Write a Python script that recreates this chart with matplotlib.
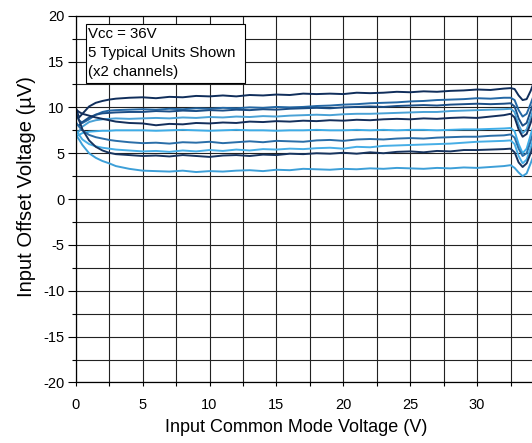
import matplotlib
matplotlib.use("Agg")
import matplotlib.pyplot as plt
from matplotlib.patches import Rectangle
from matplotlib.ticker import MultipleLocator

plt.rcParams["font.family"] = ["Liberation Sans", "DejaVu Sans"]
plt.rcParams["axes.unicode_minus"] = False

# Input common mode voltage (V)
vcm = [0, 0.25, 0.5, 1, 1.5, 2, 2.5,
       3, 4, 5, 6, 7, 8, 9, 10, 11, 12, 13, 14, 15, 16, 17,
       18, 19, 20, 21, 22, 23, 24, 25, 26, 27, 28, 29, 30, 31, 32,
       32.5, 32.8, 33.1, 33.4, 33.7, 34.0, 34.2]

# Input offset voltage (uV), 5 units x 2 channels
unit1a = [10.0, 8.9, 9.3, 10.1, 10.5, 10.7, 10.85,
          10.95, 11.05, 11.1, 11.0, 11.15, 11.1, 11.25, 11.2, 11.3, 11.2, 11.35, 11.3, 11.4, 11.35, 11.5,
          11.45, 11.5, 11.45, 11.6, 11.55, 11.6, 11.7, 11.65, 11.75, 11.7, 11.8, 11.85, 11.95, 11.9, 12.05,
          12.1, 12.0, 11.3, 10.8, 10.9, 11.8, 12.6]
unit1b = [9.5, 8.6, 8.3, 8.7, 9.2, 9.5, 9.65,
          9.7, 9.75, 9.8, 9.75, 9.85, 9.8, 9.9, 9.85, 9.95, 9.9, 10.0, 9.95, 10.05, 10.0, 10.05,
          10.15, 10.2, 10.3, 10.35, 10.45, 10.5, 10.55, 10.65, 10.7, 10.8, 10.85, 10.9, 11.0, 10.95, 11.05,
          11.05, 10.8, 9.7, 9.0, 9.3, 10.4, 11.2]
unit2a = [8.2, 8.0, 8.4, 8.9, 9.2, 9.35, 9.4,
          9.45, 9.5, 9.5, 9.6, 9.55, 9.65, 9.6, 9.7, 9.65, 9.75, 9.7, 9.8, 9.75, 9.85, 9.9,
          9.95, 9.9, 10.0, 10.05, 10.1, 10.05, 10.15, 10.2, 10.25, 10.2, 10.3, 10.35, 10.4, 10.35, 10.4,
          10.45, 10.1, 8.8, 8.0, 8.3, 9.6, 10.5]
unit2b = [7.0, 7.4, 7.9, 8.4, 8.6, 8.7, 8.75,
          8.8, 8.75, 8.8, 8.85, 8.8, 8.9, 8.85, 8.95, 8.9, 9.0, 8.95, 9.05, 9.0, 9.1, 9.15,
          9.2, 9.15, 9.25, 9.3, 9.3, 9.35, 9.4, 9.45, 9.5, 9.5, 9.6, 9.65, 9.7, 9.75, 9.8,
          9.85, 9.5, 8.1, 7.2, 7.6, 8.9, 9.8]
unit3a = [9.8, 9.5, 9.3, 9.1, 8.9, 8.75, 8.6,
          8.45, 8.3, 8.25, 8.05, 8.2, 8.15, 8.3, 8.25, 8.35, 8.3, 8.45, 8.4, 8.5, 8.45, 8.55,
          8.5, 8.6, 8.55, 8.65, 8.6, 8.7, 8.75, 8.7, 8.8, 8.75, 8.85, 8.9, 8.85, 9.0, 9.15,
          9.3, 8.9, 7.6, 6.8, 7.1, 8.3, 9.2]
unit3b = [6.8, 7.0, 7.2, 7.35, 7.4, 7.45, 7.45,
          7.5, 7.5, 7.5, 7.45, 7.5, 7.55, 7.5, 7.45, 7.5, 7.55, 7.5, 7.5, 7.45, 7.5, 7.5,
          7.55, 7.5, 7.5, 7.55, 7.5, 7.55, 7.5, 7.55, 7.55, 7.5, 7.55, 7.6, 7.6, 7.65, 7.7,
          7.75, 7.4, 6.0, 5.0, 5.5, 7.0, 8.0]
unit4a = [8.4, 7.9, 7.5, 7.0, 6.75, 6.6, 6.45,
          6.35, 6.2, 6.1, 6.15, 6.05, 6.2, 6.15, 6.25, 6.1, 6.2, 6.3, 6.2, 6.35, 6.3, 6.25,
          6.4, 6.45, 6.35, 6.5, 6.55, 6.5, 6.6, 6.65, 6.6, 6.7, 6.75, 6.8, 6.8, 6.9, 6.95,
          7.05, 6.7, 5.5, 4.7, 5.0, 6.3, 7.3]
unit4b = [7.6, 7.0, 6.5, 6.0, 5.75, 5.6, 5.5,
          5.4, 5.3, 5.2, 5.25, 5.15, 5.3, 5.2, 5.35, 5.25, 5.4, 5.3, 5.45, 5.4, 5.5, 5.45,
          5.55, 5.6, 5.5, 5.7, 5.65, 5.8, 5.85, 5.9, 5.95, 6.0, 6.05, 6.15, 6.25, 6.3, 6.35,
          6.4, 6.0, 4.7, 3.9, 4.3, 5.6, 6.6]
unit5a = [9.4, 8.6, 7.6, 6.4, 5.7, 5.3, 5.05,
          4.9, 4.8, 4.7, 4.75, 4.65, 4.8, 4.7, 4.6, 4.75, 4.8, 4.7, 4.85, 4.8, 4.95, 4.9,
          5.0, 4.95, 5.05, 4.95, 5.1, 5.0, 5.15, 5.2, 5.1, 5.25, 5.2, 5.35, 5.35, 5.4, 5.45,
          5.5, 5.1, 4.0, 3.5, 3.9, 5.0, 5.9]
unit5b = [7.0, 6.5, 5.9, 5.0, 4.5, 4.15, 3.9,
          3.6, 3.3, 3.1, 3.05, 3.0, 3.1, 2.95, 3.05, 3.0, 3.1, 3.15, 3.05, 3.2, 3.15, 3.3,
          3.25, 3.2, 3.3, 3.25, 3.35, 3.3, 3.4, 3.35, 3.3, 3.4, 3.35, 3.45, 3.4, 3.5, 3.6,
          3.7, 3.4, 2.9, 2.5, 2.8, 3.9, 4.7]

curves = [unit1a, unit1b, unit2a, unit2b, unit3a, unit3b, unit4a, unit4b, unit5a, unit5b]
colors = ["#102e5b", "#2468a5", "#1b4e86", "#4aa2d6", "#142f5c",
          "#3eade8", "#2a6ea8", "#47aee6", "#17345f", "#3d9fd8"]

fig = plt.figure(figsize=(5.32, 4.43), dpi=100)
ax = fig.add_axes([0.1423, 0.1366, 0.8577, 0.828])

grid_kw = dict(color="#222222", linewidth=0.8)
ax.grid(True, which="both", **grid_kw)
ax.set_axisbelow(True)

for y, c in zip(curves, colors):
    ax.plot(vcm, y, color=c, linewidth=1.4, solid_joinstyle="round")

ax.set_xlim(0, 34.1)
ax.set_ylim(-20, 20)
ax.xaxis.set_major_locator(MultipleLocator(5))
ax.xaxis.set_minor_locator(MultipleLocator(2.5))
ax.yaxis.set_major_locator(MultipleLocator(5))
ax.yaxis.set_minor_locator(MultipleLocator(2.5))
ax.tick_params(axis="y", which="major", direction="out", length=6, width=0.8, labelsize=10.5, pad=2)
ax.tick_params(axis="y", which="minor", direction="out", length=3, width=0.8)
ax.tick_params(axis="x", which="both", direction="out", length=3, width=0.8, labelsize=10.5, pad=8)

for s in ["left", "bottom", "top"]:
    ax.spines[s].set_linewidth(0.9)
ax.spines["right"].set_visible(False)

ax.set_xlabel("Input Common Mode Voltage (V)", fontsize=13)
ax.xaxis.label.set_va("center")
ax.xaxis.set_label_coords(0.484, -0.124)
ax.set_ylabel("Input Offset Voltage (\u00b5V)", fontsize=14.5)
ax.yaxis.label.set_va("center")
ax.yaxis.set_label_coords(-0.107, 0.533)

# note box
W, H = 532, 443
fig.patches.append(Rectangle((86 / W, 1 - 83 / H), (245 - 86) / W, (83 - 24) / H,
                             transform=fig.transFigure, facecolor="white",
                             edgecolor="black", linewidth=0.8, zorder=5))
for i, line in enumerate(["Vcc = 36V", "5 Typical Units Shown", "(x2 channels)"]):
    fig.text(88 / W, 1 - (34 + i * 19) / H, line, fontsize=10.8, va="center", ha="left", zorder=6)

fig.savefig("out.png", dpi=100)
